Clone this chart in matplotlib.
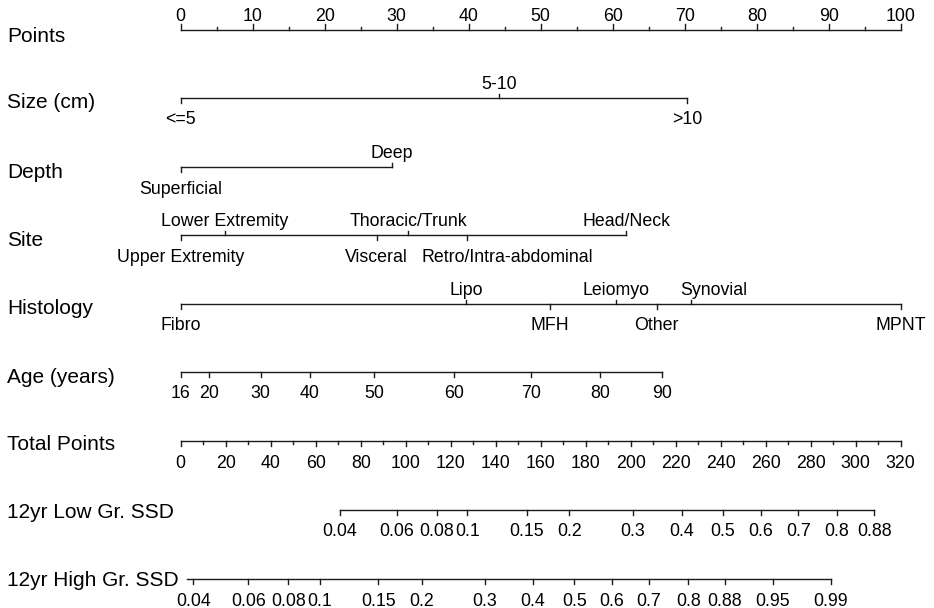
import matplotlib
matplotlib.use("Agg")
import matplotlib.pyplot as plt
from matplotlib.transforms import blended_transform_factory

plt.rcParams['font.family'] = ['Liberation Sans', 'DejaVu Sans']

# ---- data (positions in Points units, 0-100) ----
points_ticks = list(range(0, 101, 10))

size_labels = ['<=5', '5-10', '>10']
size_points = [0, 44.2, 70.3]

depth_labels = ['Superficial', 'Deep']
depth_points = [0, 29.3]

site_labels = ['Upper Extremity', 'Lower Extremity', 'Visceral',
               'Thoracic/Trunk', 'Retro/Intra-abdominal', 'Head/Neck']
site_points = [0, 6.1, 27.2, 31.6, 39.7, 61.9]

histology_labels = ['Fibro', 'Lipo', 'MFH', 'Leiomyo', 'Other', 'Synovial', 'MPNT']
histology_points = [0, 39.6, 51.3, 60.4, 66.1, 70.9, 100]

age_labels = ['16', '20', '30', '40', '50', '60', '70', '80', '90']
age_points = [0, 3.9, 11.1, 17.9, 26.9, 38.0, 48.6, 58.3, 66.8]

total_max = 320
total_ticks = list(range(0, 321, 20))

low_ssd_labels = ['0.04', '0.06', '0.08', '0.1', '0.15', '0.2', '0.3',
                  '0.4', '0.5', '0.6', '0.7', '0.8', '0.88']
low_ssd_total = [70.8, 96.0, 113.8, 127.4, 153.8, 172.7, 200.9,
                 222.7, 240.9, 257.8, 274.5, 291.6, 308.3]

high_ssd_labels = ['0.04', '0.06', '0.08', '0.1', '0.15', '0.2', '0.3', '0.4',
                   '0.5', '0.6', '0.7', '0.8', '0.88', '0.95', '0.99']
high_ssd_total = [5.6, 30.0, 47.8, 61.9, 87.8, 107.1, 135.2, 156.4,
                  174.9, 191.6, 208.1, 225.6, 241.9, 263.1, 288.9]

# ---- layout ----
LW = 1.0
COL = '#1a1a1a'
ROW_FS = 15
TICK_FS = 12.8
PX = 7.2  # pixels per point unit

# labels nudged sideways so they do not collide (pixels)
label_shift = {'Retro/Intra-abdominal': 41, 'Synovial': 23}

fig = plt.figure(figsize=(9.34, 6.08), dpi=100)
ax = fig.add_axes([0, 0, 1, 1])
ax.set_xlim(-180.7 / PX, (934 - 180.7) / PX)
ax.set_ylim(608, 0)
ax.axis('off')

lab_tr = blended_transform_factory(ax.transAxes, ax.transData)


def row_label(text, y, dy=10.5):
    ax.text(0.008, y + dy, text, transform=lab_tr, fontsize=ROW_FS,
            ha='left', va='baseline')


def tick_label(x, y, text, above):
    x = x + label_shift.get(text, 0) / PX
    if above:
        ax.text(x, y - 9, text, fontsize=TICK_FS, ha='center', va='baseline')
    else:
        ax.text(x, y + 26.5, text, fontsize=TICK_FS, ha='center', va='baseline')


def category_row(name, y, labels, pts):
    row_label(name, y)
    order = sorted(range(len(pts)), key=lambda i: pts[i])
    ax.plot([min(pts), max(pts)], [y, y], color=COL, lw=LW)
    for k, i in enumerate(order):
        above = k % 2 == 1
        t = -4.5 if above else 4.5
        ax.plot([pts[i], pts[i]], [y, y + t], color=COL, lw=LW)
        tick_label(pts[i], y, labels[i], above)


# Points
y = 30
row_label('Points', y, 12)
ax.plot([0, 100], [y, y], color=COL, lw=LW)
for p in range(0, 101, 5):
    t = 6 if p % 10 == 0 else 3
    ax.plot([p, p], [y, y - t], color=COL, lw=LW)
for p in points_ticks:
    tick_label(p, y, str(p), True)

category_row('Size (cm)', 98, size_labels, size_points)
category_row('Depth', 167, depth_labels, depth_points)
category_row('Site', 235, site_labels, site_points)
category_row('Histology', 304, histology_labels, histology_points)

# Age
y = 372
row_label('Age (years)', y, 11)
ax.plot([age_points[0], age_points[-1]], [y, y], color=COL, lw=LW)
for p, lab in zip(age_points, age_labels):
    ax.plot([p, p], [y, y + 4.5], color=COL, lw=LW)
    tick_label(p, y, lab, False)

# Total Points
scale = 100 / total_max
y = 441
row_label('Total Points', y, 9.5)
ax.plot([0, 100], [y, y], color=COL, lw=LW)
for tp in range(0, total_max + 1, 10):
    t = 5 if tp % 20 == 0 else 3
    ax.plot([tp * scale, tp * scale], [y, y + t], color=COL, lw=LW)
for tp in total_ticks:
    tick_label(tp * scale, y, str(tp), False)

# probability scales
for name, y, labs, tots, dy, x0 in [
        ('12yr Low Gr. SSD', 510, low_ssd_labels, low_ssd_total, 8, None),
        ('12yr High Gr. SSD', 579, high_ssd_labels, high_ssd_total, 6.5, 3.0)]:
    row_label(name, y, dy)
    xs = [tp * scale for tp in tots]
    start = x0 * scale if x0 is not None else xs[0]
    ax.plot([start, xs[-1]], [y, y], color=COL, lw=LW)
    for x, lab in zip(xs, labs):
        ax.plot([x, x], [y, y + 4.5], color=COL, lw=LW)
        tick_label(x, y, lab, False)

fig.savefig('out.png', dpi=100, facecolor='white')
